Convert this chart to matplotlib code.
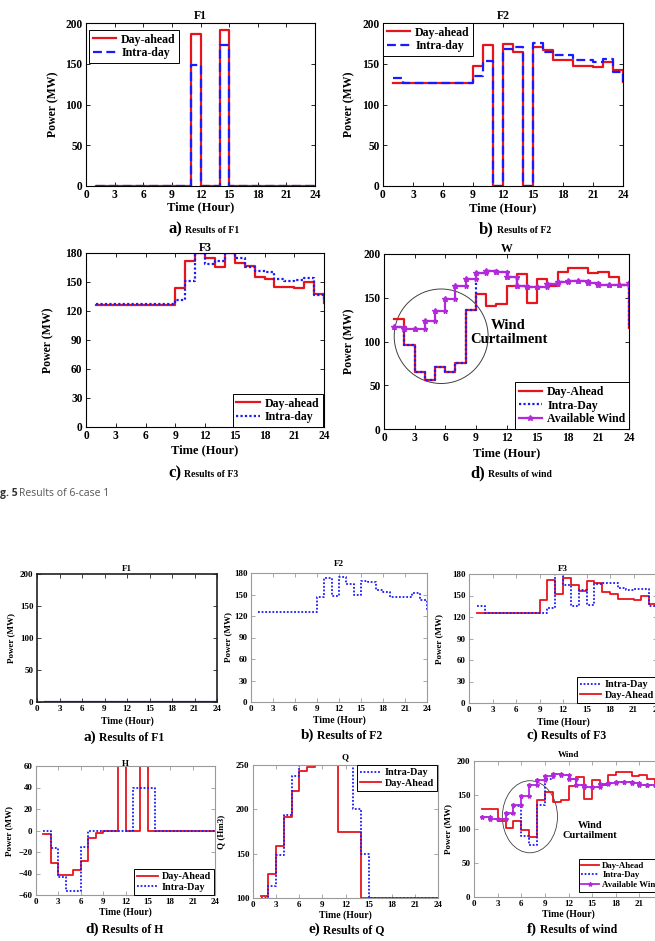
import matplotlib
matplotlib.use("Agg")
import matplotlib.pyplot as plt
from matplotlib.patches import Ellipse
import numpy as np

# --- Données ---
hours = list(range(1, 25))

# Cas 1 (haut)
f1_da = [0, 0, 0, 0, 0, 0, 0, 0, 0, 0, 187, 0, 0, 192, 0, 0, 0, 0, 0, 0, 0, 0, 0, 0]
f1_id = [0, 0, 0, 0, 0, 0, 0, 0, 0, 0, 148, 0, 0, 173, 0, 0, 0, 0, 0, 0, 0, 0, 0, 0]
f2_da = [126, 126, 126, 126, 126, 126, 126, 126, 147, 173, 0, 174, 165, 0, 170, 167, 155, 154, 147, 147, 146, 152, 142, 128]
f2_id = [133, 126, 126, 126, 126, 126, 126, 126, 135, 153, 0, 168, 171, 0, 175, 165, 161, 161, 154, 154, 152, 156, 140, 128]
f3_da = [126, 126, 126, 126, 126, 126, 126, 126, 144, 172, 180, 175, 165, 180, 170, 167, 155, 153, 145, 145, 144, 150, 138, 128]
f3_id = [127, 127, 127, 127, 127, 127, 127, 127, 131, 151, 180, 169, 172, 180, 175, 165, 161, 160, 153, 151, 152, 154, 137, 130]
w_da = [126, 96, 65, 56, 71, 65, 75, 136, 154, 141, 143, 163, 177, 144, 172, 164, 180, 184, 184, 178, 180, 174, 165, 116]
w_id = [117, 96, 65, 56, 71, 65, 75, 136, 178, 181, 180, 174, 164, 162, 162, 166, 168, 169, 169, 167, 165, 165, 165, 116]
w_av = [117, 114, 114, 123, 135, 149, 164, 172, 178, 181, 180, 174, 164, 162, 162, 166, 168, 169, 169, 167, 165, 165, 165, 167]

# Cas 2 (bas)
f1b_id = [0] * 24
f2b_id = [126, 126, 126, 126, 126, 126, 126, 126, 147, 173, 148, 174, 165, 150, 169, 167, 156, 154, 147, 147, 146, 152, 142, 128]
f3b_da = [126, 126, 126, 126, 126, 126, 126, 126, 144, 172, 152, 175, 165, 156, 170, 167, 155, 152, 145, 145, 144, 150, 138, 128]
f3b_id = [135, 126, 126, 126, 126, 126, 126, 126, 126, 132, 180, 164, 136, 158, 137, 166, 168, 168, 160, 157, 159, 159, 136, 130]
h_da = [-3, -30, -41, -41, -37, -28, -7, -2, 0, 0, 60, 0, 0, 60, 0, 0, 0, 0, 0, 0, 0, 0, 0, 0]
h_id = [0, -16, -43, -56, -56, -15, 0, 0, 0, 0, 0, 0, 40, 40, 40, 0, 0, 0, 0, 0, 0, 0, 0, 0]
q_da = [102, 127, 159, 191, 221, 243, 248, 250, 250, 250, 175, 175, 175, 100, 100, 100, 100, 100, 100, 100, 100, 100, 100, 100]
q_id = [100, 113, 148, 194, 238, 250, 250, 250, 250, 250, 250, 250, 200, 150, 100, 100, 100, 100, 100, 100, 100, 100, 100, 100]
wb_da = [129, 129, 112, 101, 112, 98, 88, 142, 154, 140, 143, 163, 177, 144, 172, 164, 180, 184, 184, 178, 180, 174, 165, 165]
wb_id = [117, 114, 114, 122, 134, 89, 77, 136, 173, 181, 180, 174, 164, 162, 162, 166, 168, 169, 169, 167, 165, 165, 165, 165]
wb_av = w_av

RED = "#e8141c"
BLUE = "#1a1aff"
MAG = "#b428dc"
DOT = (0, (1, 1))
DASH = (0, (4, 2))

W_PX, H_PX = 655, 941

plt.rcParams["font.family"] = ["Liberation Serif", "DejaVu Serif"]
plt.rcParams["font.weight"] = "bold"
plt.rcParams["axes.labelweight"] = "bold"
plt.rcParams["axes.titleweight"] = "bold"

fig = plt.figure(figsize=(6.55, 9.41), dpi=100)


def make_axes(box, ylim, yticks, fs, edge="black", title="", title_pad=3,
              ylabel="Power (MW)", ylab_x=None, xlab_y=None, lab_fs=8):
    # box = (gauche, haut, droite, bas) en pixels de la figure
    l, t, r, b = box
    ax = fig.add_axes([l / W_PX, 1 - b / H_PX, (r - l) / W_PX, (b - t) / H_PX])
    ax.set_xlim(0, 24)
    ax.set_xticks(range(0, 25, 3))
    ax.set_ylim(*ylim)
    ax.set_yticks(yticks)
    ax.tick_params(direction="in", top=True, right=True, labelsize=fs,
                   length=3, width=0.6, pad=2.5, color=edge, labelcolor="black")
    for s in ax.spines.values():
        s.set_color(edge)
        s.set_linewidth(0.8)
    ax.set_title(title, fontsize=lab_fs - 0.5, pad=title_pad)
    ax.set_xlabel("Time (Hour)", fontsize=lab_fs)
    ax.set_ylabel(ylabel, fontsize=lab_fs - 0.5)
    ax.yaxis.set_label_coords((ylab_x - l) / (r - l), 0.5)
    ax.xaxis.set_label_coords(0.5, (b - xlab_y) / (b - t))
    return ax


def legende(ax, loc, anchor, fs, reverse=False):
    h, lab = ax.get_legend_handles_labels()
    if reverse:
        h, lab = h[::-1], lab[::-1]
    leg = ax.legend(h, lab, loc=loc, bbox_to_anchor=anchor, fontsize=fs, fancybox=False,
                    edgecolor="black", framealpha=1, borderpad=0.3,
                    labelspacing=0.15, handlelength=2.0, handletextpad=0.4,
                    borderaxespad=0)
    leg.get_frame().set_linewidth(0.7)


def marches(ax, y, **kw):
    ax.step(hours, y, where="post", **kw)


def etoiles(ax, y, ms):
    # marqueurs sur chaque sommet de l'escalier (comme stairs de MATLAB)
    xs = np.repeat(hours, 2)[1:]
    ys = np.repeat(y, 2)[:-1]
    ax.plot(xs, ys, linestyle="none", marker="*", ms=ms, color=MAG)


def legende_panneau(x_split, y_base, lettre, texte, fs_l, fs_t):
    fig.text(x_split / W_PX, 1 - y_base / H_PX, lettre, ha="right", va="baseline", fontsize=fs_l)
    fig.text((x_split + 3) / W_PX, 1 - y_base / H_PX, texte, ha="left", va="baseline", fontsize=fs_t)


# ===================== Cas 1 =====================
ax = make_axes((86, 23, 315, 186), (0, 200), range(0, 201, 50), 8.3, title="F1",
               title_pad=3, ylab_x=59, xlab_y=201, lab_fs=9)
marches(ax, f1_da, color=RED, lw=1.6, label="Day-ahead")
marches(ax, f1_id, color=BLUE, lw=1.6, linestyle=DASH, label="Intra-day")
legende(ax, "upper left", (0.013, 0.957), 8.6)

ax = make_axes((383, 23, 623, 186), (0, 200), range(0, 201, 50), 8.3, title="F2",
               title_pad=3, ylab_x=355, xlab_y=202, lab_fs=9)
marches(ax, f2_da, color=RED, lw=1.6, label="Day-ahead")
marches(ax, f2_id, color=BLUE, lw=1.6, linestyle=DASH, label="Intra-day")
legende(ax, "upper left", (0.0, 1.0), 8.6)

ax = make_axes((86, 253, 324, 427), (0, 180), range(0, 181, 30), 8.3, title="F3",
               title_pad=1.5, ylab_x=54, xlab_y=444, lab_fs=9)
marches(ax, f3_da, color=RED, lw=1.6, label="Day-ahead")
marches(ax, f3_id, color=BLUE, lw=1.6, linestyle=DOT, label="Intra-day")
legende(ax, "lower right", (0.996, 0.0), 8.6)

ax = make_axes((384, 254, 629, 429), (0, 200), range(0, 201, 50), 8.3, title="W",
               title_pad=1.5, ylab_x=355, xlab_y=447, lab_fs=9)
marches(ax, w_da, color=RED, lw=1.6, label="Day-Ahead")
marches(ax, w_id, color=BLUE, lw=1.6, linestyle=DOT, label="Intra-Day")
marches(ax, w_av, color=MAG, lw=1.6, marker="*", ms=4, label="Available Wind")
etoiles(ax, w_av, 3.5)
ax.add_patch(Ellipse((5.6, 106), 9.2, 108, fill=False, edgecolor="#404040", lw=0.7))
ax.text(12.2, 110, "Wind\nCurtailment", ha="center", va="center", fontsize=10.5, linespacing=1.1)
legende(ax, "lower right", (1.0, 0.0), 8.6)

legende_panneau(182, 233, "a)", "Results of F1", 12, 7)
legende_panneau(494, 233, "b)", "Results of F2", 12, 7)
legende_panneau(181, 477, "c)", "Results of F3", 12, 7)
legende_panneau(485, 477, "d)", "Results of wind", 12, 7)

fig.text(0.0, 1 - 496 / H_PX, "g. 5", ha="left", va="baseline", fontsize=7.5,
         family="Open Sans", weight="bold", color="#333333")
fig.text(19 / W_PX, 1 - 496 / H_PX, "Results of 6-case 1", ha="left", va="baseline",
         fontsize=7.5, family="Open Sans", weight="normal", color="#555555")

# ===================== Cas 2 =====================
GRIS = "#9a9a9a"

ax = make_axes((37, 574, 217, 702), (0, 200), range(0, 201, 50), 6.5, edge="#202020",
               title="F1", title_pad=2, ylab_x=15, xlab_y=716, lab_fs=7)
for s in ax.spines.values():
    s.set_linewidth(1.2)
marches(ax, f1b_id, color="#2a2ad0", lw=1.6)

ax = make_axes((251, 573, 427, 702), (0, 180), range(0, 181, 30), 6.5, edge=GRIS,
               title="F2", title_pad=5, ylab_x=232, xlab_y=715, lab_fs=7)
marches(ax, f2b_id, color=BLUE, lw=1.3, linestyle=DOT)

ax = make_axes((469, 574, 657, 703), (0, 180), range(0, 181, 30), 6.5, edge=GRIS,
               title="F3", title_pad=2, ylab_x=443, xlab_y=717, lab_fs=7)
marches(ax, f3b_da, color=RED, lw=1.3, label="Day-Ahead")
marches(ax, f3b_id, color=BLUE, lw=1.3, linestyle=DOT, label="Intra-Day")
legende(ax, "lower right", (1.0, 0.0), 7.3, reverse=True)

ax = make_axes((36, 766, 215, 895), (-60, 60), range(-60, 61, 20), 6.5, edge=GRIS,
               title="H", title_pad=0, ylab_x=13, xlab_y=907, lab_fs=7)
marches(ax, h_da, color=RED, lw=1.3, label="Day-Ahead")
marches(ax, h_id, color=BLUE, lw=1.3, linestyle=DOT, label="Intra-Day")
legende(ax, "lower right", (0.994, 0.0), 7.3)

ax = make_axes((253, 765, 438, 898), (100, 250), range(100, 251, 50), 6.5, edge=GRIS,
               title="Q", title_pad=4, ylabel="Q (Hm3)", ylab_x=225, xlab_y=910, lab_fs=7)
marches(ax, q_da, color=RED, lw=1.3, label="Day-Ahead")
marches(ax, q_id, color=BLUE, lw=1.3, linestyle=DOT, label="Intra-Day")
legende(ax, "upper right", (0.995, 1.0), 7.3, reverse=True)

ax = make_axes((474, 761, 663, 897), (0, 200), range(0, 201, 50), 6.5, edge=GRIS,
               title="Wind", title_pad=3, ylab_x=452, xlab_y=909, lab_fs=7)
marches(ax, wb_da, color=RED, lw=1.3, label="Day-Ahead")
marches(ax, wb_id, color=BLUE, lw=1.3, linestyle=DOT, label="Intra-Day")
marches(ax, wb_av, color=MAG, lw=1.3, marker="*", ms=3, label="Available Wind")
etoiles(ax, wb_av, 3)
ax.add_patch(Ellipse((7.1, 118), 7.0, 106, fill=False, edgecolor="#404040", lw=0.6))
ax.text(14.7, 98, "Wind\nCurtailment", ha="center", va="center", fontsize=7.5, linespacing=1.2)
legende(ax, "lower right", (1.0, 0.04), 6.3)

legende_panneau(96, 741, "a)", "Results of F1", 11, 8.5)
legende_panneau(314, 739, "b)", "Results of F2", 11, 8.5)
legende_panneau(538, 739, "c)", "Results of F3", 11, 8.5)
legende_panneau(99, 933, "d)", "Results of H", 11, 8.5)
legende_panneau(320, 933, "e)", "Results of Q", 11, 8.5)
legende_panneau(537, 933, "f)", "Results of wind", 11, 8.5)

fig.savefig("out.png", dpi=100)
